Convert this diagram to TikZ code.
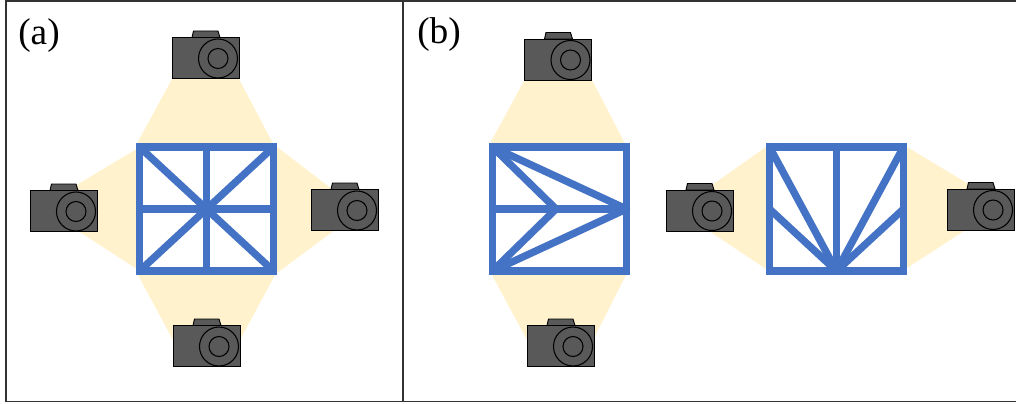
\documentclass[tikz,border=0pt]{standalone}
\usepackage{fontspec}
\setmainfont{Liberation Serif}
\usepackage{xcolor}
\usetikzlibrary{backgrounds}
\definecolor{barblue}{HTML}{4472C4}
\definecolor{fanyellow}{HTML}{FFF2CC}
\definecolor{camgray}{HTML}{595959}
\definecolor{framegray}{HTML}{333333}
\begin{document}
\begin{tikzpicture}[
						x=0.75pt, y=-0.75pt,
						frame/.style={
							draw=framegray,
							line width=1.1pt
						},
						bar/.style={              % Blue beams of the target
							draw=barblue,
							line width=5.5pt,
							line join=round
						},
						box/.style={              % Outer square, sharp corners
							draw=barblue,
							line width=5.5pt,
							line join=miter
						},
						fan/.style={              % Field of view
							fill=fanyellow
						},
						label/.style={
							font=\fontsize{28}{30}\selectfont,
							inner sep=0pt,
							anchor=base west
						},
						campart/.style={
							draw=black,
							fill=camgray,
							line width=0.7pt
						},
						lens/.style={
							draw=black,
							line width=0.8pt
						},
						camera/.pic={
							\draw[campart] (20,0) -- (21.5,-6.5) -- (46,-6.5) -- (48,0) -- cycle;
							\draw[campart] (0,0) rectangle (67,41);
							\draw[lens] (46,21) circle (19.5);
							\draw[lens] (46,21) circle (10);
						}
						]
						\useasboundingbox (0,0) rectangle (1016,403);
						
						% --- Frame ---
						\draw[frame] (1016,1) -- (6,1) -- (6,401.5) -- (1016,401.5);
						\draw[frame] (403,1) -- (403,401.5);
						\node[label] (lbl-a) at (18,45) {(a)};
						\node[label] (lbl-b) at (417,44) {(b)};
						
						% --- Fields of view ---
						\begin{scope}[on background layer]
							\fill[fan] (172,79) -- (239,79) -- (273,143.5) -- (137,143.5) -- cycle;
							\fill[fan] (173,340) -- (240,340) -- (275,275) -- (138,275) -- cycle;
							\fill[fan] (64,192.5) -- (140,147) -- (140,271) -- (64,222) -- cycle;
							\fill[fan] (345,199) -- (277,147) -- (277,273) -- (345,222.5) -- cycle;
							\fill[fan] (524.5,80) -- (592,80) -- (625,143.5) -- (490,143.5) -- cycle;
							\fill[fan] (527,340) -- (593,340) -- (626,275) -- (492,275) -- cycle;
							\fill[fan] (700,193.5) -- (766,147) -- (766,269) -- (700,225) -- cycle;
							\fill[fan] (981,191.5) -- (907,147) -- (907,268) -- (981,220) -- cycle;
						\end{scope}
						
						% --- Cameras ---
						\foreach \nm/\px/\py in {at/172/37.5, al/30/190.5, ar/311/189.5, ab/173/325.5, bt/524.5/39, bb/527/325.5, bl/666/190, br/947/189} {
							\pic (\nm) at (\px,\py) {camera};
						}
						
						% --- Corners of the three squares ---
						\foreach \nm/\xa/\xb in {sa/139.5/273.5, sb/492.5/626.5, sc/769.5/903.5} {
							\coordinate (\nm-tl) at (\xa,147);
							\coordinate (\nm-tr) at (\xb,147);
							\coordinate (\nm-bl) at (\xa,271);
							\coordinate (\nm-br) at (\xb,271);
							\coordinate (\nm-t) at ({(\xa+\xb)/2},147);
							\coordinate (\nm-b) at ({(\xa+\xb)/2},271);
							\coordinate (\nm-l) at (\xa,209);
							\coordinate (\nm-r) at (\xb,209);
						}
						\coordinate (sb-k) at (556,209);
						
						% --- Square (a) ---
						\draw[box] (sa-tl) rectangle (sa-br);
						\draw[bar] (sa-tl) -- (sa-br);
						\draw[bar] (sa-tr) -- (sa-bl);
						\draw[bar] (sa-t) -- (sa-b);
						\draw[bar] (sa-l) -- (sa-r);
						
						% --- Square (b), left ---
						\draw[box] (sb-tl) rectangle (sb-br);
						\draw[bar] (sb-l) -- (sb-r);
						\draw[bar] (sb-tl) -- (sb-k) -- (sb-bl);
						\draw[bar] (sb-tl) -- (sb-r) -- (sb-bl);
						
						% --- Square (b), right ---
						\draw[box] (sc-tl) rectangle (sc-br);
						\draw[bar] (sc-t) -- (sc-b);
						\foreach \tgt in {tl, tr, l, r} {
							\draw[bar] (sc-b) -- (sc-\tgt);
						}
						
					\end{tikzpicture}
\end{document}
